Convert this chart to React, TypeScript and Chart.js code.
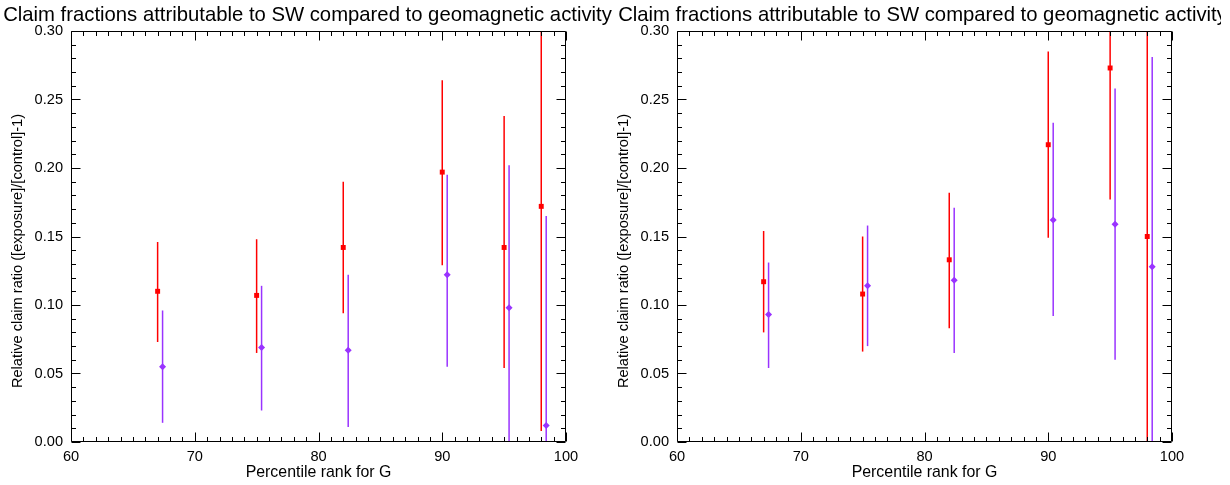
import React, { useEffect, useRef } from "react";
import { Chart, registerables } from "chart.js";

Chart.register(...registerables);

const TITLE = "Claim fractions attributable to SW compared to geomagnetic activity";
const X_TITLE = "Percentile rank for G";
const Y_TITLE = "Relative claim ratio ([exposure]/[control]-1)";

const X_MIN = 60;
const X_MAX = 100;
const Y_MIN = 0;
const Y_MAX = 0.3;

const xRed = [67, 75, 82, 90, 95, 98];
const xPurple = [67.4, 75.4, 82.4, 90.4, 95.4, 98.4];

const leftRed = [0.110, 0.107, 0.142, 0.197, 0.142, 0.172];
const leftRedLo = [0.073, 0.065, 0.094, 0.129, 0.054, 0.008];
const leftRedHi = [0.146, 0.148, 0.190, 0.264, 0.238, 0.36];
const leftPurple = [0.055, 0.069, 0.067, 0.122, 0.098, 0.012];
const leftPurpleLo = [0.014, 0.023, 0.011, 0.055, -0.01, -0.02];
const leftPurpleHi = [0.096, 0.114, 0.122, 0.195, 0.202, 0.165];

const rightRed = [0.117, 0.108, 0.133, 0.217, 0.273, 0.150];
const rightRedLo = [0.080, 0.066, 0.083, 0.149, 0.177, -0.12];
const rightRedHi = [0.154, 0.150, 0.182, 0.285, 0.36, 0.42];
const rightPurple = [0.093, 0.114, 0.118, 0.162, 0.159, 0.128];
const rightPurpleLo = [0.054, 0.070, 0.065, 0.092, 0.060, -0.03];
const rightPurpleHi = [0.131, 0.158, 0.171, 0.233, 0.258, 0.281];

const FONT = "'Liberation Sans', Arial, Helvetica, sans-serif";
const RED = "#ff0000";
const PURPLE = "#9933ff";

type PanelData = {
  red: number[];
  redLo: number[];
  redHi: number[];
  purple: number[];
  purpleLo: number[];
  purpleHi: number[];
};

const LEFT: PanelData = {
  red: leftRed, redLo: leftRedLo, redHi: leftRedHi,
  purple: leftPurple, purpleLo: leftPurpleLo, purpleHi: leftPurpleHi,
};
const RIGHT: PanelData = {
  red: rightRed, redLo: rightRedLo, redHi: rightRedHi,
  purple: rightPurple, purpleLo: rightPurpleLo, purpleHi: rightPurpleHi,
};

function makeConfig(p: PanelData, titleCenter: number): any {
  const bars = [
    { xs: xRed, lo: p.redLo, hi: p.redHi, color: RED, width: 1.5 },
    { xs: xPurple, lo: p.purpleLo, hi: p.purpleHi, color: PURPLE, width: 1.5 },
  ];
  const plugin = {
    id: "idlDecor",
    beforeDatasetsDraw(chart: any) {
      const { ctx, chartArea: a, scales } = chart;
      const x = scales.x, y = scales.y;
      ctx.save();
      ctx.beginPath();
      ctx.rect(a.left, a.top, a.right - a.left, a.bottom - a.top);
      ctx.clip();
      bars.forEach((b) => {
        ctx.strokeStyle = b.color;
        ctx.lineWidth = b.width;
        b.xs.forEach((xv, i) => {
          const px = x.getPixelForValue(xv);
          ctx.beginPath();
          ctx.moveTo(px, y.getPixelForValue(b.lo[i]));
          ctx.lineTo(px, y.getPixelForValue(b.hi[i]));
          ctx.stroke();
        });
      });
      ctx.restore();
    },
    afterDraw(chart: any) {
      const { ctx, chartArea: a, scales } = chart;
      const x = scales.x, y = scales.y;
      ctx.save();
      ctx.strokeStyle = "#000";
      ctx.lineWidth = 1;
      const L = Math.round(a.left) + 0.5;
      const R = Math.round(a.right) - 0.5;
      const T = Math.round(a.top) + 0.5;
      const B = Math.round(a.bottom) - 0.5;
      ctx.beginPath();
      ctx.rect(L, T, R - L, B - T);
      ctx.stroke();
      const major = 9, minor = 4.5;
      ctx.beginPath();
      for (let v = X_MIN; v <= X_MAX; v += 1) {
        const len = v % 10 === 0 ? major : minor;
        const px = Math.round(x.getPixelForValue(v)) + 0.5;
        ctx.moveTo(px, B);
        ctx.lineTo(px, B - len);
        ctx.moveTo(px, T);
        ctx.lineTo(px, T + len);
      }
      for (let i = 0; i <= 30; i++) {
        const v = i / 100;
        const len = i % 5 === 0 ? major : minor;
        const py = Math.round(y.getPixelForValue(v)) + 0.5;
        ctx.moveTo(L, py);
        ctx.lineTo(L + len, py);
        ctx.moveTo(R, py);
        ctx.lineTo(R - len, py);
      }
      ctx.stroke();
      ctx.fillStyle = "#000";
      ctx.font = `20.3px ${FONT}`;
      ctx.textAlign = "center";
      ctx.textBaseline = "alphabetic";
      ctx.fillText(TITLE, titleCenter, 21);
      // y axis title
      ctx.font = `14.6px ${FONT}`;
      ctx.textBaseline = "middle";
      ctx.translate(18, 251);
      ctx.rotate(-Math.PI / 2);
      ctx.fillText(Y_TITLE, 0, 0);
      ctx.restore();
    },
  };

  return {
    type: "scatter",
    data: {
      datasets: [
        {
          label: "red",
          data: xRed.map((xv, i) => ({ x: xv, y: p.red[i] })),
          backgroundColor: RED,
          borderColor: RED,
          pointStyle: "rect",
          pointRadius: 3.5,
          pointBorderWidth: 0,
          showLine: false,
        },
        {
          label: "purple",
          data: xPurple.map((xv, i) => ({ x: xv, y: p.purple[i] })),
          backgroundColor: PURPLE,
          borderColor: PURPLE,
          pointStyle: "rectRot",
          pointRadius: 3.5,
          pointBorderWidth: 0,
          showLine: false,
        },
      ],
    },
    options: {
      responsive: false,
      animation: false,
      devicePixelRatio: 1,
      layout: { padding: { top: 31, right: 49, left: 0, bottom: 0 } },
      plugins: { legend: { display: false }, title: { display: false }, tooltip: { enabled: false } },
      events: [],
      scales: {
        x: {
          type: "linear",
          min: X_MIN,
          max: X_MAX,
          grid: { display: false, drawTicks: false },
          border: { display: false },
          ticks: {
            stepSize: 10,
            padding: 6,
            color: "#000",
            font: { family: FONT, size: 14.6 },
            callback: (v: number) => String(v),
            maxRotation: 0,
          },
          title: {
            display: true,
            text: X_TITLE,
            color: "#000",
            font: { family: FONT, size: 15.9 },
            padding: { top: 0, bottom: 3 },
          },
          afterFit: (s: any) => { s.height = 43; },
        },
        y: {
          type: "linear",
          min: Y_MIN,
          max: Y_MAX,
          grid: { display: false, drawTicks: false },
          border: { display: false },
          ticks: {
            stepSize: 0.05,
            padding: 8,
            color: "#000",
            font: { family: FONT, size: 14.6 },
            callback: (v: number) => v.toFixed(2),
          },
          title: { display: false },
          afterFit: (s: any) => { s.width = 71; },
        },
      },
    },
    plugins: [plugin],
  };
}

function Panel({ data, left, titleCenter }: { data: PanelData; left: number; titleCenter: number }) {
  const ref = useRef<HTMLCanvasElement | null>(null);
  useEffect(() => {
    if (!ref.current) return;
    const chart = new Chart(ref.current, makeConfig(data, titleCenter));
    return () => chart.destroy();
  }, [data, titleCenter]);
  return (
    <canvas
      ref={ref}
      width={615}
      height={485}
      style={{ position: "absolute", left, top: 0, width: 615, height: 485 }}
    />
  );
}

export default function App() {
  return (
    <div style={{ position: "absolute", left: 0, top: 0, width: 1230, height: 485, background: "#fff", overflow: "hidden" }}>
      <Panel data={LEFT} left={0} titleCenter={307.5} />
      <Panel data={RIGHT} left={606} titleCenter={316.5} />
    </div>
  );
}
